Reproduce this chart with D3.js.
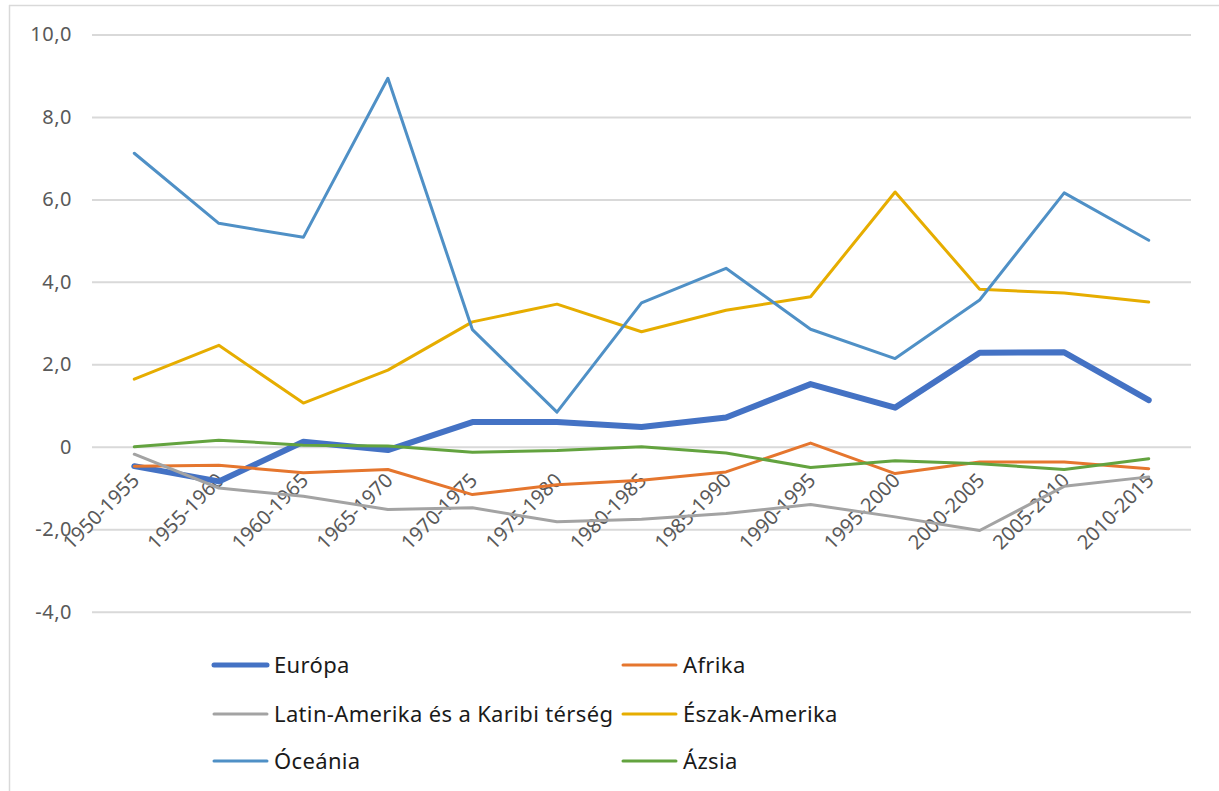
<!DOCTYPE html>
<html>
<head>
<meta charset="utf-8">
<script src="https://cdn.jsdelivr.net/npm/d3@7"></script>
<style>
  html, body { margin: 0; padding: 0; background: #fff; }
  svg { display: block; }
  text { font-family: "Noto Sans", "Open Sans", sans-serif; }
</style>
</head>
<body>
<svg id="chart" width="1219" height="791"></svg>
<script>
const categories = ["1950-1955","1955-1960","1960-1965","1965-1970","1970-1975","1975-1980","1980-1985","1985-1990","1990-1995","1995-2000","2000-2005","2005-2010","2010-2015"];
const yTicks = [-4, -2, 0, 2, 4, 6, 8, 10];

const europa   = [-0.47, -0.84, 0.12, -0.08, 0.60, 0.60, 0.48, 0.71, 1.52, 0.95, 2.28, 2.29, 1.13];
const afrika   = [-0.47, -0.45, -0.63, -0.55, -1.16, -0.92, -0.81, -0.61, 0.09, -0.65, -0.37, -0.37, -0.53];
const latin    = [-0.18, -1.00, -1.20, -1.52, -1.48, -1.82, -1.76, -1.62, -1.40, -1.70, -2.03, -0.96, -0.73];
const eszak    = [1.64, 2.46, 1.06, 1.86, 3.03, 3.46, 2.79, 3.31, 3.64, 6.18, 3.82, 3.73, 3.51];
const oceania  = [7.12, 5.42, 5.08, 8.94, 2.84, 0.84, 3.49, 4.33, 2.85, 2.14, 3.56, 6.16, 5.01];
const azsia    = [0.00, 0.16, 0.04, 0.02, -0.13, -0.09, 0.00, -0.15, -0.50, -0.34, -0.41, -0.55, -0.29];

const seriesNames = ["Európa", "Afrika", "Latin-Amerika és a Karibi térség", "Észak-Amerika", "Óceánia", "Ázsia"];
const seriesValues = [europa, afrika, latin, eszak, oceania, azsia];
const seriesColors = ["#4472C4", "#E5762E", "#A3A3A3", "#E6AD00", "#4F90C6", "#63A33F"];
const seriesWidths = [6, 3, 3, 3, 3, 3];

const svg = d3.select("#chart");

// outer frame (only top and left visible)
svg.append("line").attr("x1", 9).attr("x2", 1219).attr("y1", 5.5).attr("y2", 5.5)
  .attr("stroke", "#D9D9D9").attr("stroke-width", 1.5);
svg.append("line").attr("x1", 9.5).attr("x2", 9.5).attr("y1", 5).attr("y2", 791)
  .attr("stroke", "#D9D9D9").attr("stroke-width", 1.5);

const x = d3.scalePoint().domain(categories).range([92, 1191]).padding(0.5);
const y = d3.scaleLinear().domain([-4, 10]).range([611.7, 34.5]);

const fmt = d => d === 0 ? "0" : d.toFixed(1).replace(".", ",");

// gridlines + y labels via axis
const yAxis = d3.axisLeft(y).tickValues(yTicks).tickSize(-(1191 - 92)).tickFormat(fmt).tickPadding(20);
const gy = svg.append("g").attr("transform", "translate(92,0)").call(yAxis);
gy.select(".domain").remove();
gy.selectAll(".tick line").attr("stroke", "#D9D9D9").attr("stroke-width", 2);
gy.selectAll(".tick text").attr("fill", "#595959").style("font-size", "20px")
  .style("letter-spacing", "0.5px")
  .style("font-family", "'Noto Sans', sans-serif");

// x axis labels, hanging from the zero line, rotated -45
const xAxis = d3.axisBottom(x).tickSize(0).tickPadding(0);
const gx = svg.append("g").attr("transform", `translate(0,${y(0)})`).call(xAxis);
gx.select(".domain").remove();
gx.selectAll(".tick text")
  .attr("fill", "#595959")
  .style("font-size", "20px")
  .style("font-family", "'Noto Sans', sans-serif")
  .attr("text-anchor", "end")
  .attr("dy", null)
  .attr("y", 0)
  .attr("transform", "translate(2,31) rotate(-45)")
  .attr("dominant-baseline", "middle");

// lines
const lineGen = d3.line().x((d, i) => x(categories[i])).y(d => y(d));
seriesValues.forEach((vals, s) => {
  svg.append("path")
    .datum(vals)
    .attr("d", lineGen)
    .attr("fill", "none")
    .attr("stroke", seriesColors[s])
    .attr("stroke-width", seriesWidths[s])
    .attr("stroke-linejoin", "round")
    .attr("stroke-linecap", "round");
});

// legend
const legCols = [214, 623];
const legRows = [665, 714, 761];
seriesNames.forEach((name, s) => {
  const cx = legCols[s % 2];
  const cy = legRows[Math.floor(s / 2)];
  const g = svg.append("g").attr("transform", `translate(${cx},${cy})`);
  g.append("line").attr("x1", 0).attr("x2", 53).attr("y1", 0).attr("y2", 0)
    .attr("stroke", seriesColors[s]).attr("stroke-width", seriesWidths[s] === 6 ? 5 : 3)
    .attr("stroke-linecap", "round");
  g.append("text").attr("x", 60).attr("y", 0).attr("dy", "0.35em")
    .attr("fill", "#1a1a1a").style("font-size", "22px").style("letter-spacing", "0.35px").text(name);
});
</script>
</body>
</html>
